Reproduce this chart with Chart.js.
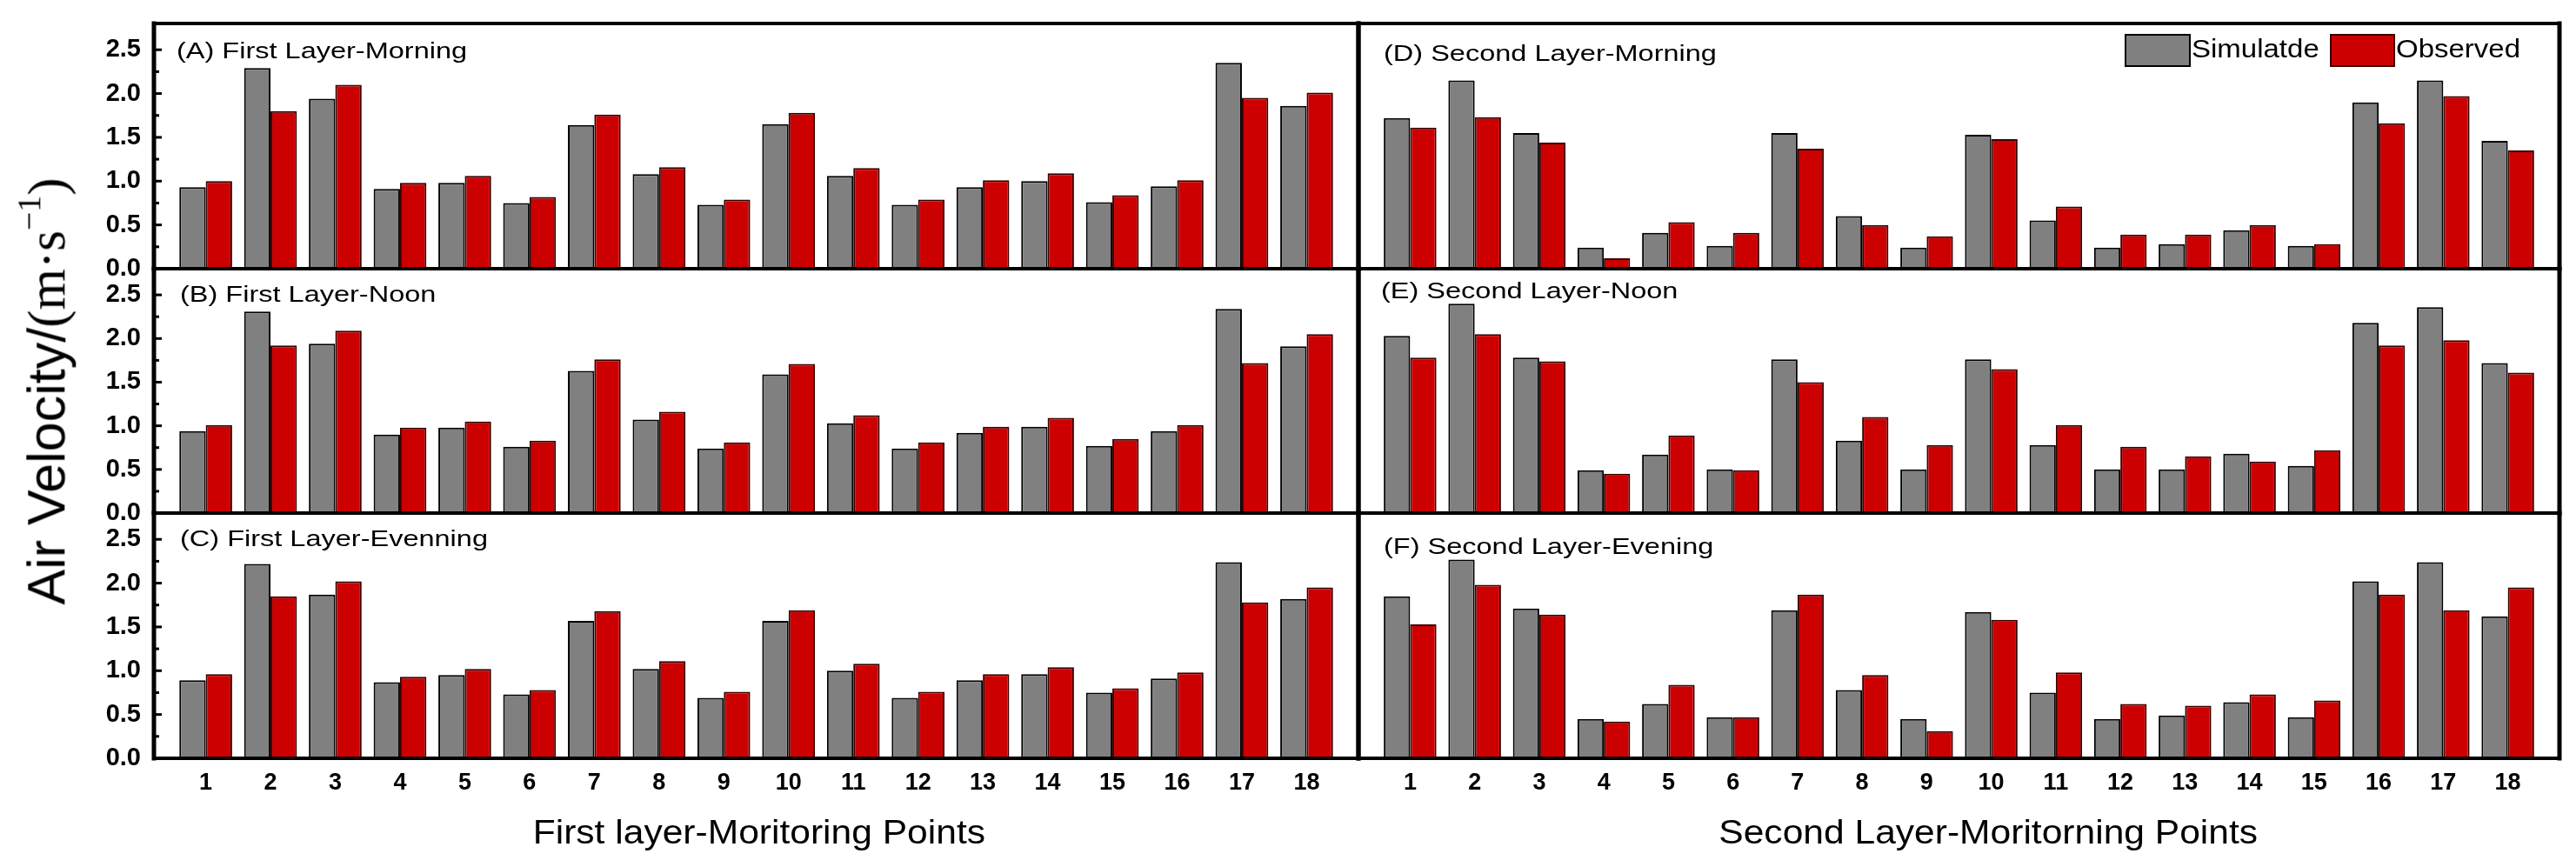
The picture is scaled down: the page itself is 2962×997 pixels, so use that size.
<!DOCTYPE html>
<html>
<head>
<meta charset="utf-8">
<script src="https://cdn.jsdelivr.net/npm/chart.js@4.4.1/dist/chart.umd.min.js"></script>
<style>
  html, body { margin: 0; padding: 0; background: #fff; }
  #page {
    position: relative;
    width: 2962px;
    height: 997px;
    overflow: hidden;
    font-family: 'Liberation Sans', Arial, sans-serif;
    color: #000;
  }
  .panel { position: absolute; }
  .txt { position: absolute; white-space: nowrap; line-height: 1; transform-origin: 0 0; }
  .box { position: absolute; box-sizing: border-box; border: 2px solid #000; }
</style>
</head>
<body>
<div id="page"></div>
<script>
// monitoring points (x tick labels) and y tick labels
const points = [1, 2, 3, 4, 5, 6, 7, 8, 9, 10, 11, 12, 13, 14, 15, 16, 17, 18];
const yTicks = [0.0, 0.5, 1.0, 1.5, 2.0, 2.5];

// first layer
const simA = [0.93, 2.29, 1.94, 0.91, 0.98, 0.75, 1.64, 1.08, 0.73, 1.65, 1.06, 0.73, 0.93, 1.00, 0.76, 0.94, 2.35, 1.86];
const obsA = [1.00, 1.80, 2.10, 0.98, 1.06, 0.82, 1.76, 1.16, 0.79, 1.78, 1.15, 0.79, 1.01, 1.09, 0.84, 1.01, 1.95, 2.01];
const simB = [0.94, 2.31, 1.94, 0.90, 0.98, 0.76, 1.63, 1.07, 0.74, 1.59, 1.03, 0.74, 0.92, 0.99, 0.77, 0.94, 2.34, 1.91];
const obsB = [1.01, 1.92, 2.09, 0.98, 1.05, 0.83, 1.76, 1.16, 0.81, 1.71, 1.12, 0.81, 0.99, 1.09, 0.85, 1.01, 1.72, 2.05];
const simC = [0.89, 2.22, 1.87, 0.87, 0.95, 0.73, 1.57, 1.02, 0.69, 1.57, 1.00, 0.69, 0.89, 0.96, 0.75, 0.91, 2.24, 1.82];
const obsC = [0.96, 1.85, 2.02, 0.93, 1.02, 0.78, 1.68, 1.11, 0.76, 1.69, 1.08, 0.76, 0.96, 1.04, 0.80, 0.98, 1.78, 1.95];

// second layer
const simD = [1.72, 2.15, 1.55, 0.24, 0.41, 0.26, 1.55, 0.60, 0.24, 1.53, 0.55, 0.24, 0.28, 0.44, 0.26, 1.90, 2.15, 1.46];
const obsD = [1.61, 1.73, 1.44, 0.12, 0.53, 0.41, 1.37, 0.50, 0.37, 1.48, 0.71, 0.39, 0.39, 0.50, 0.28, 1.66, 1.97, 1.35];
const simE = [2.03, 2.40, 1.78, 0.49, 0.67, 0.50, 1.76, 0.83, 0.50, 1.76, 0.78, 0.50, 0.50, 0.68, 0.54, 2.18, 2.36, 1.72];
const obsE = [1.78, 2.05, 1.74, 0.45, 0.89, 0.49, 1.50, 1.10, 0.78, 1.65, 1.01, 0.76, 0.65, 0.59, 0.72, 1.92, 1.98, 1.61];
const simF = [1.85, 2.27, 1.71, 0.45, 0.62, 0.47, 1.69, 0.78, 0.45, 1.67, 0.75, 0.45, 0.49, 0.64, 0.47, 2.02, 2.24, 1.62];
const obsF = [1.53, 1.98, 1.64, 0.42, 0.84, 0.47, 1.87, 0.95, 0.31, 1.58, 0.98, 0.62, 0.60, 0.73, 0.66, 1.87, 1.69, 1.95];

const titles = ['(A) First Layer-Morning', '(B) First Layer-Noon', '(C) First Layer-Evenning',
  '(D) Second Layer-Morning', '(E) Second Layer-Noon', '(F) Second Layer-Evening'];
const seriesNames = ['Simulatde', 'Observed'];
const xTitles = ['First layer-Moritoring Points', 'Second Layer-Moritorning Points'];

const GRAY = '#808080';
const RED = '#cc0000';

// plot-area geometry in page pixels
const PLOT_LEFT = [177, 1562];
const PLOT_RIGHT = [1562, 2943];
const ROW_TOP = [27, 309, 590];
const ROW_BOTTOM = [309, 590, 872];
const PAD = 40;

const panels = [
  { sim: simA, obs: obsA, col: 0, row: 0, title: titles[0], tx: 203, tb: 67 },
  { sim: simB, obs: obsB, col: 0, row: 1, title: titles[1], tx: 207, tb: 347 },
  { sim: simC, obs: obsC, col: 0, row: 2, title: titles[2], tx: 207, tb: 628 },
  { sim: simD, obs: obsD, col: 1, row: 0, title: titles[3], tx: 1591, tb: 70 },
  { sim: simE, obs: obsE, col: 1, row: 1, title: titles[4], tx: 1588, tb: 343 },
  { sim: simF, obs: obsF, col: 1, row: 2, title: titles[5], tx: 1591, tb: 637 },
];

Chart.defaults.font.family = "'Liberation Sans', Arial, sans-serif";
Chart.defaults.color = '#000';

const framePlugin = {
  id: 'frame',
  afterDatasetsDraw(chart, args, opts) {
    const { ctx, chartArea: a } = chart;
    ctx.save();
    ctx.strokeStyle = '#000';
    ctx.lineCap = 'square';
    ctx.lineWidth = 4;
    ctx.beginPath();
    ctx.moveTo(a.left, a.top); ctx.lineTo(a.right, a.top);
    ctx.moveTo(a.left, a.bottom); ctx.lineTo(a.right, a.bottom);
    ctx.stroke();
    ctx.lineWidth = 5;
    ctx.beginPath();
    ctx.moveTo(a.left, a.top); ctx.lineTo(a.left, a.bottom);
    ctx.moveTo(a.right, a.top); ctx.lineTo(a.right, a.bottom);
    ctx.stroke();
    if (opts.ticks) {
      const y = chart.scales.y;
      ctx.lineWidth = 3;
      ctx.lineCap = 'butt';
      y.ticks.forEach((t) => {
        const q = t.value * 4;
        if (Math.abs(q - Math.round(q)) > 1e-6 || t.value <= 0) return;
        const major = Math.abs(t.value * 2 - Math.round(t.value * 2)) < 1e-6;
        const py = y.getPixelForValue(t.value);
        ctx.beginPath();
        ctx.moveTo(a.left, py);
        ctx.lineTo(a.left + (major ? 9 : 6), py);
        ctx.stroke();
      });
    }
    ctx.restore();
  },
};

const page = document.getElementById('page');

function addText(text, left, top, size, opts = {}) {
  const el = document.createElement('div');
  el.className = 'txt';
  el.style.left = left + 'px';
  el.style.top = top + 'px';
  el.style.fontSize = size + 'px';
  if (opts.weight) el.style.fontWeight = opts.weight;
  if (opts.transform) el.style.transform = opts.transform;
  if (opts.html) el.innerHTML = text; else el.textContent = text;
  page.appendChild(el);
  return el;
}

panels.forEach((p) => {
  const isLeft = p.col === 0;
  const isBottom = p.row === 2;
  const left = isLeft ? 0 : 1550;
  const width = isLeft ? 1575 : 2962 - 1550;
  const xAxisH = isBottom ? 70 : 0;
  const top = ROW_TOP[p.row] - PAD;
  const height = ROW_BOTTOM[p.row] - ROW_TOP[p.row] + PAD + (isBottom ? xAxisH : PAD);

  const wrap = document.createElement('div');
  wrap.className = 'panel';
  wrap.style.left = left + 'px';
  wrap.style.top = top + 'px';
  wrap.style.width = width + 'px';
  wrap.style.height = height + 'px';
  const canvas = document.createElement('canvas');
  wrap.appendChild(canvas);
  page.appendChild(wrap);

  const toXY = (arr) => arr.map((v, i) => ({ x: points[i], y: v }));

  new Chart(canvas.getContext('2d'), {
    type: 'bar',
    data: {
      datasets: [
        {
          label: seriesNames[0],
          data: toXY(p.sim),
          backgroundColor: GRAY,
          borderColor: '#000',
          borderWidth: 2,
          categoryPercentage: 0.815,
          barPercentage: 1.0,
        },
        {
          label: seriesNames[1],
          data: toXY(p.obs),
          backgroundColor: RED,
          borderColor: '#3a0000',
          borderWidth: 2,
          categoryPercentage: 0.815,
          barPercentage: 1.0,
        },
      ],
    },
    options: {
      responsive: true,
      maintainAspectRatio: false,
      animation: false,
      layout: {
        padding: {
          left: isLeft ? 0 : PLOT_LEFT[1] - left,
          right: left + width - PLOT_RIGHT[p.col],
          top: PAD,
          bottom: isBottom ? 0 : PAD,
        },
      },
      plugins: {
        legend: { display: false },
        tooltip: { enabled: false },
        frame: { ticks: isLeft },
      },
      scales: {
        x: {
          type: 'linear',
          min: 0.2,
          max: 18.8,
          offset: false,
          afterBuildTicks(axis) {
            axis.ticks = points.map((v) => ({ value: v }));
          },
          afterFit(axis) {
            axis.height = xAxisH;
          },
          grid: { display: false, drawTicks: false },
          border: { display: false },
          ticks: {
            display: isBottom,
            autoSkip: false,
            maxRotation: 0,
            padding: 12,
            font: { size: 27, weight: 'bold' },
            callback: (v) => String(v),
          },
        },
        y: {
          display: isLeft,
          min: 0,
          max: 2.8,
          afterFit(axis) {
            axis.width = isLeft ? PLOT_LEFT[0] : 0;
          },
          grid: { display: false, drawTicks: false },
          border: { display: false },
          ticks: {
            stepSize: 0.25,
            autoSkip: false,
            padding: 15,
            font: { size: 29, weight: 'bold' },
            callback(v) {
              const hit = yTicks.find((t) => Math.abs(t - v) < 1e-6);
              return hit === undefined ? '' : hit.toFixed(1);
            },
          },
        },
      },
    },
    plugins: [framePlugin],
  });

  // panel title, baseline at p.tb
  addText(p.title, p.tx, p.tb - 21, 25, { transform: 'scaleX(1.3)' });
});

// legend inside panel D
const g = document.createElement('div');
g.className = 'box';
Object.assign(g.style, { left: '2443px', top: '39px', width: '76px', height: '38px', background: GRAY });
page.appendChild(g);
const r = document.createElement('div');
r.className = 'box';
Object.assign(r.style, { left: '2679px', top: '39px', width: '75px', height: '38px', background: RED, borderColor: '#3a0000' });
page.appendChild(r);
addText(seriesNames[0], 2520, 41, 30, { transform: 'scaleX(1.1)' });
addText(seriesNames[1], 2755, 41, 30, { transform: 'scaleX(1.1)' });

// axis titles
addText(xTitles[0], 845, 938, 38, { transform: 'translateX(-50%) scaleX(1.12)' });
addText(xTitles[1], 2253, 938, 38, { transform: 'translateX(-50%) scaleX(1.12)' });

const yt = addText(
  'Air Velocity/<span style="font-family:\'Liberation Serif\', \'Times New Roman\', serif">(m&middot;s<sup style="font-size:0.62em;vertical-align:0.75em;">&minus;1</sup>)</span>',
  50, 450, 61, { html: true, transform: 'translate(-50%, -50%) rotate(-90deg)' });
yt.style.transformOrigin = '50% 50%';
</script>
</body>
</html>
